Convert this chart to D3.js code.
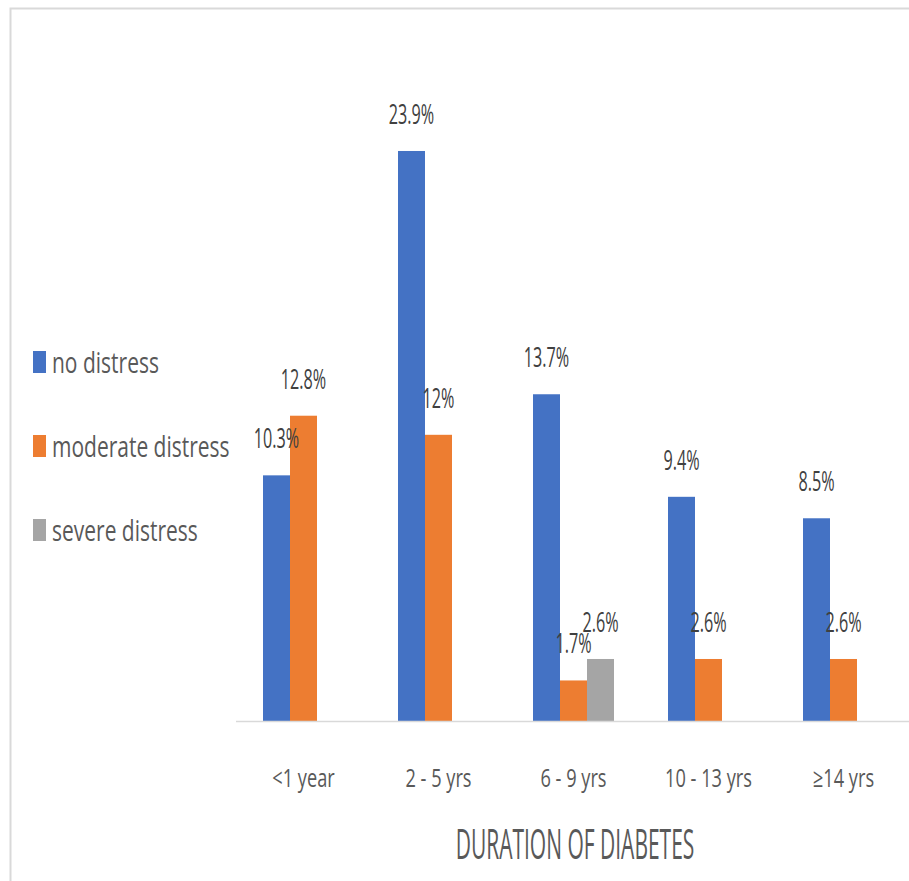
<!DOCTYPE html>
<html>
<head>
<meta charset="utf-8">
<script src="https://cdn.jsdelivr.net/npm/d3@7"></script>
<style>
  html, body { margin: 0; padding: 0; background: #ffffff; }
  svg { display: block; }
</style>
</head>
<body>
<svg id="chart" width="909" height="881"></svg>
<script>
// ---- data ----
const categories = ["<1 year", "2 - 5 yrs", "6 - 9 yrs", "10 - 13 yrs", "\u226514 yrs"];
const seriesNames = ["no distress", "moderate distress", "severe distress"];
const noDistress = [10.3, 23.9, 13.7, 9.4, 8.5];
const moderateDistress = [12.8, 12, 1.7, 2.6, 2.6];
const severeDistress = [null, null, 2.6, null, null];
const axisTitle = "DURATION OF DIABETES";

const seriesValues = [noDistress, moderateDistress, severeDistress];
const colors = ["#4472C4", "#ED7D31", "#A5A5A5"];

const svg = d3.select("#chart");
const W = 909, H = 881;
const FONT = "'Open Sans', 'Noto Sans', sans-serif";

svg.append("rect").attr("width", W).attr("height", H).attr("fill", "#fff");

// outer frame (only top and left edges visible)
svg.append("path")
  .attr("d", `M10.5,${H} V8.5 H${W}`)
  .attr("fill", "none").attr("stroke", "#d9d9d9").attr("stroke-width", 2);

// scales
const x = d3.scaleBand().domain(categories).range([236, 911]).paddingInner(0.4).paddingOuter(0.2);
const xs = d3.scaleBand().domain(seriesNames).range([0, x.bandwidth()]);
const y = d3.scaleLinear().domain([0, 25]).range([721, 721 - 25 * 23.85]);

// helper for horizontally condensed text
function ctext(parent, px, py, str, size, sx, anchor, fill) {
  const g = parent.append("g").attr("transform", `translate(${px},${py}) scale(${sx},1)`);
  g.append("text").attr("x", 0).attr("y", 0)
    .attr("text-anchor", anchor)
    .attr("font-family", FONT).attr("font-size", size)
    .attr("fill", fill).text(str);
  return g;
}

// bars
const barData = [];
seriesValues.forEach((vals, si) => {
  vals.forEach((v, ci) => {
    if (v !== null && v !== undefined) barData.push({ s: seriesNames[si], si, c: categories[ci], v });
  });
});

const gBars = svg.append("g");
gBars.selectAll("rect").data(barData).join("rect")
  .attr("x", d => x(d.c) + xs(d.s))
  .attr("y", d => y(d.v))
  .attr("width", xs.bandwidth())
  .attr("height", d => y(0) - y(d.v))
  .attr("fill", d => colors[d.si]);

// axis line
const xAxis = d3.axisBottom(x).tickSize(0).tickFormat("");
const gAx = svg.append("g").attr("transform", `translate(0,${y(0) + 0.5})`).call(xAxis);
gAx.select(".domain").attr("stroke", "#d9d9d9").attr("stroke-width", 1.5)
  .attr("d", `M236,0H909`);

// data labels
const gLab = svg.append("g");
barData.forEach(d => {
  ctext(gLab, x(d.c) + xs(d.s) + xs.bandwidth() / 2, y(d.v) - 27, d.v + "%", 27, 0.6, "middle", "#404040");
});

// category labels
categories.forEach(c => {
  ctext(svg, x(c) + x.bandwidth() / 2, 787, c, 26, 0.7, "middle", "#595959");
});

// axis title
ctext(svg, 575, 859, axisTitle, 42, 0.5, "middle", "#595959");

// legend
const legendY = d3.scalePoint().domain(seriesNames).range([373, 541]);
seriesNames.forEach((s, i) => {
  const by = legendY(s);
  svg.append("rect").attr("x", 33).attr("y", by - 22).attr("width", 13).attr("height", 22).attr("fill", colors[i]);
  ctext(svg, 52, by, s, 30, 0.7, "start", "#595959");
});
</script>
</body>
</html>
